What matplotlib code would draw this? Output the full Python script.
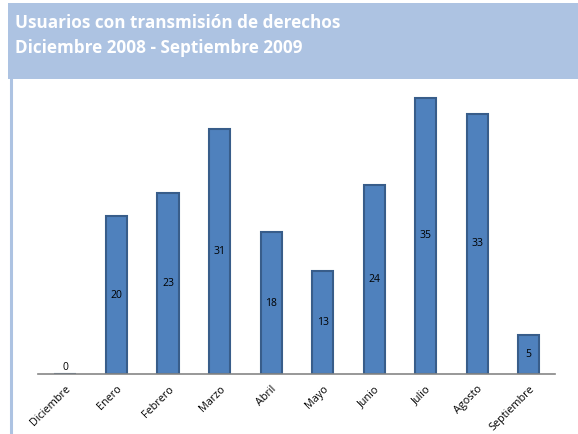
import matplotlib
matplotlib.use("Agg")
import matplotlib.pyplot as plt
from matplotlib.patches import Rectangle
from matplotlib.lines import Line2D

categories = ["Diciembre", "Enero", "Febrero", "Marzo", "Abril", "Mayo",
              "Junio", "Julio", "Agosto", "Septiembre"]
values = [0, 20, 23, 31, 18, 13, 24, 35, 33, 5]
title_lines = ["Usuarios con transmisión de derechos",
               "Diciembre 2008 - Septiembre 2009"]

W, H = 578, 434
fig = plt.figure(figsize=(W / 100, H / 100), dpi=100)
fig.patch.set_facecolor("white")

# header band
fig.patches.append(Rectangle((8 / W, 1 - 79 / H), 570 / W, 76 / H,
                             transform=fig.transFigure, facecolor="#ADC3E2",
                             edgecolor="none", zorder=0))
# left vertical rule
fig.lines.append(Line2D([10.5 / W, 10.5 / W], [0, 1 - 79 / H],
                        transform=fig.transFigure, color="#ADC3E2", lw=2.2))
fig.text(15 / W, 1 - 23 / H, title_lines[0], color="white", fontsize=12.3,
         fontweight="bold", family="Open Sans", va="center", ha="left")
fig.text(15 / W, 1 - 48 / H, title_lines[1], color="white", fontsize=12.3,
         fontweight="bold", family="Open Sans", va="center", ha="left")

ax = fig.add_axes([38 / W, 60 / H, (555 - 38) / W, (374 - 90) / H])
x = list(range(len(categories)))
bars = ax.bar(x, values, width=0.41, color="#4F81BD", edgecolor="#385D8A",
              linewidth=1.5, zorder=2)
ax.set_xlim(-0.524, 9.51)
ax.set_ylim(0, 36)
for xi, v in zip(x, values):
    if v == 0:
        ax.text(xi, 0.1, str(v), ha="center", va="bottom", fontsize=7.5,
                family="Open Sans", color="black", zorder=3)
    else:
        ax.text(xi, v / 2, str(v), ha="center", va="center", fontsize=7.5,
                family="Open Sans", color="black", zorder=3)

for s in ["top", "right", "left"]:
    ax.spines[s].set_visible(False)
ax.spines["bottom"].set_color("#868686")
ax.spines["bottom"].set_linewidth(1.2)
ax.set_yticks([])
ax.set_xticks(x)
ax.set_xticklabels(categories, rotation=45, ha="right", rotation_mode="anchor",
                   fontsize=7.8, family="Open Sans")
ax.tick_params(axis="x", length=0, pad=7)
ax.set_facecolor("none")

fig.savefig("out.png", dpi=100)
